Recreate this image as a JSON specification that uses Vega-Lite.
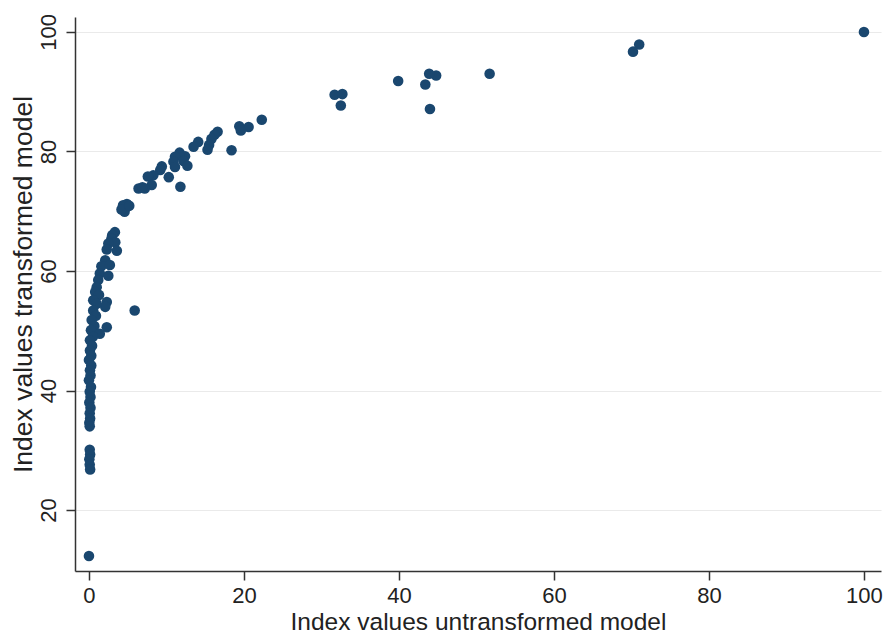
{
  "$schema": "https://vega.github.io/schema/vega-lite/v6.json",
  "width": 806,
  "height": 554,
  "autosize": "none",
  "padding": {"left": 75, "top": 17, "right": 3, "bottom": 63},
  "background": "white",
  "config": {
    "view": {"stroke": null},
    "font": "Liberation Sans"
  },
  "data": {
    "values": [
      {"u": 100, "t": 100}, {"u": 71.0, "t": 97.9}, {"u": 70.2, "t": 96.7}, {"u": 51.7, "t": 93.0},
      {"u": 44.8, "t": 92.7}, {"u": 43.9, "t": 93.0}, {"u": 43.4, "t": 91.2}, {"u": 44.0, "t": 87.1},
      {"u": 39.9, "t": 91.8}, {"u": 31.7, "t": 89.5}, {"u": 32.7, "t": 89.6}, {"u": 32.5, "t": 87.7},
      {"u": 22.3, "t": 85.3}, {"u": 20.6, "t": 84.1}, {"u": 19.4, "t": 84.2}, {"u": 19.6, "t": 83.5},
      {"u": 18.4, "t": 80.2}, {"u": 16.6, "t": 83.3}, {"u": 16.2, "t": 82.8}, {"u": 15.8, "t": 82.1},
      {"u": 15.5, "t": 81.1}, {"u": 15.3, "t": 80.3}, {"u": 14.1, "t": 81.6}, {"u": 13.5, "t": 80.8},
      {"u": 12.4, "t": 79.2}, {"u": 11.7, "t": 79.8}, {"u": 11.1, "t": 79.1}, {"u": 10.9, "t": 78.3},
      {"u": 12.2, "t": 78.4}, {"u": 12.7, "t": 77.6}, {"u": 11.1, "t": 77.4}, {"u": 11.8, "t": 74.1},
      {"u": 10.3, "t": 75.7}, {"u": 9.4, "t": 77.5}, {"u": 9.2, "t": 76.9}, {"u": 8.3, "t": 76.0},
      {"u": 7.6, "t": 75.8}, {"u": 8.1, "t": 74.4}, {"u": 7.2, "t": 73.8}, {"u": 6.4, "t": 73.8},
      {"u": 6.9, "t": 74.0}, {"u": 4.9, "t": 71.2}, {"u": 4.4, "t": 71.0}, {"u": 4.6, "t": 69.9},
      {"u": 4.2, "t": 70.3}, {"u": 5.2, "t": 70.9},
      {"u": 3.35, "t": 66.5}, {"u": 3.0, "t": 66.0}, {"u": 2.9, "t": 65.4}, {"u": 3.4, "t": 64.8},
      {"u": 2.5, "t": 64.6}, {"u": 3.6, "t": 63.4}, {"u": 2.3, "t": 63.6}, {"u": 2.1, "t": 61.8},
      {"u": 1.6, "t": 60.8}, {"u": 2.7, "t": 61.0}, {"u": 1.4, "t": 59.6}, {"u": 2.5, "t": 59.2},
      {"u": 1.2, "t": 58.5}, {"u": 1.0, "t": 57.3}, {"u": 0.8, "t": 56.5}, {"u": 1.3, "t": 56.0},
      {"u": 2.3, "t": 54.8}, {"u": 2.1, "t": 54.0}, {"u": 0.55, "t": 55.1}, {"u": 1.0, "t": 54.5},
      {"u": 0.55, "t": 53.4}, {"u": 0.9, "t": 52.5}, {"u": 2.3, "t": 50.6}, {"u": 0.35, "t": 51.8},
      {"u": 0.7, "t": 50.8}, {"u": 0.26, "t": 50.1}, {"u": 1.4, "t": 49.5}, {"u": 0.5, "t": 49.0},
      {"u": 0.13, "t": 48.4}, {"u": 0.4, "t": 47.5}, {"u": 0.13, "t": 46.7}, {"u": 0.3, "t": 45.8},
      {"u": 0.0, "t": 45.1}, {"u": 0.3, "t": 44.2}, {"u": 0.13, "t": 43.4}, {"u": 0.2, "t": 42.5},
      {"u": 0.0, "t": 41.7}, {"u": 0.26, "t": 40.6}, {"u": 0.1, "t": 39.8}, {"u": 0.2, "t": 38.9},
      {"u": 0.05, "t": 38.0}, {"u": 0.2, "t": 37.1}, {"u": 0.1, "t": 36.2}, {"u": 0.15, "t": 35.3},
      {"u": 0.05, "t": 34.6}, {"u": 0.1, "t": 34.0},
      {"u": 0.1, "t": 30.1}, {"u": 0.15, "t": 29.3}, {"u": 0.05, "t": 28.5}, {"u": 0.1, "t": 27.6},
      {"u": 0.15, "t": 26.8},
      {"u": 5.9, "t": 53.4}, {"u": 0.0, "t": 12.3}
    ]
  },
  "mark": {"type": "point", "filled": true, "shape": "circle", "size": 112, "opacity": 1, "color": "#1a476f"},
  "encoding": {
    "x": {
      "field": "u",
      "type": "quantitative",
      "scale": {"domain": [-1.8, 102.2], "nice": false, "zero": false},
      "axis": {
        "values": [0, 20, 40, 60, 80, 100],
        "grid": false,
        "domainColor": "#333333",
        "domainWidth": 1.5,
        "tickColor": "#333333",
        "tickWidth": 1.5,
        "tickSize": 9,
        "labelFontSize": 22,
        "labelColor": "#222222",
        "labelBaseline": "alphabetic",
        "labelPadding": 22,
        "labelFlush": false,
        "labelOverlap": false,
        "title": "Index values untransformed model",
        "titleFontSize": 24.5,
        "titleFontWeight": "normal",
        "titleColor": "#222222",
        "titleBaseline": "alphabetic",
        "titleAlign": "center",
        "titleX": 403,
        "titleY": 58
      }
    },
    "y": {
      "field": "t",
      "type": "quantitative",
      "scale": {"domain": [9.8, 102.5], "nice": false, "zero": false},
      "axis": {
        "values": [20, 40, 60, 80, 100],
        "grid": true,
        "gridColor": "#eaeaea",
        "gridWidth": 1.2,
        "domainColor": "#333333",
        "domainWidth": 1.5,
        "tickColor": "#333333",
        "tickWidth": 1.5,
        "tickSize": 9,
        "labelFontSize": 22,
        "labelColor": "#222222",
        "labelAngle": 270,
        "labelAlign": "center",
        "labelBaseline": "alphabetic",
        "labelPadding": 11,
        "labelFlush": false,
        "labelOverlap": false,
        "title": "Index values transformed model",
        "titleFontSize": 26.5,
        "titleFontWeight": "normal",
        "titleColor": "#222222",
        "titleAngle": 270,
        "titleBaseline": "alphabetic",
        "titleAlign": "center",
        "titleX": -44,
        "titleY": 267
      }
    }
  }
}
